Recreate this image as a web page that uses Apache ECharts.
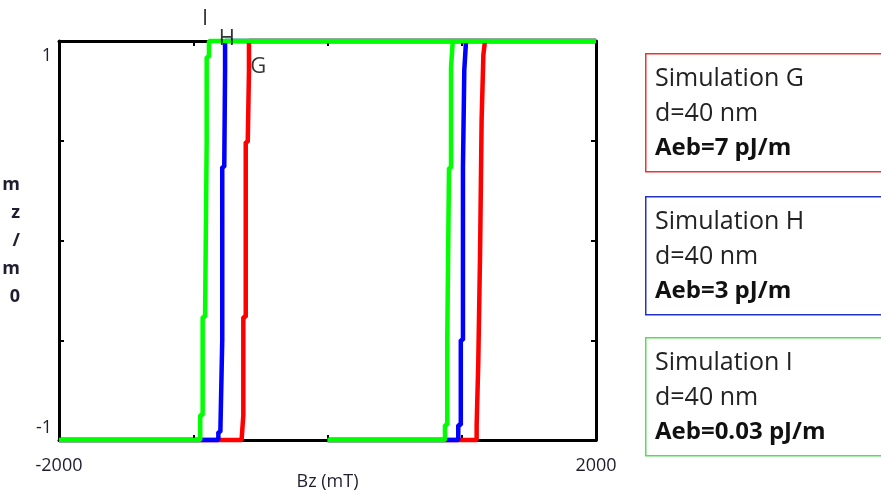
<!DOCTYPE html>
<html>
<head>
<meta charset="utf-8">
<script src="https://cdn.jsdelivr.net/npm/echarts@6/dist/echarts.min.js"></script>
<style>
  html, body { margin: 0; padding: 0; background: #fff; }
  #chart { width: 881px; height: 494px; }
</style>
</head>
<body>
<div id="chart"></div>
<script>
// Hysteresis loops mz/m0 versus applied field Bz (mT).
// Each branch is a staircase: switchX[i] holds from levels[i] to levels[i+1].

const xTickLabels = ['-2000', '2000'];
const yTickLabels = ['-1', '1'];

// Simulation G (red)
const gUpLevels = [-1, -0.925, -0.614, -0.083, 0.604, 0.93, 1];
const gUpX = [1111, 1123, 1136, 1148, 1161, 1173];
const gDownLevels = [1, 0.85, 0.494, -0.383, -0.875, -1];
const gDownX = [-585, -594, -609, -627, -640];

// Simulation H (blue)
const hUpLevels = [-1, -0.925, -0.499, 0.368, 0.855, 1];
const hUpX = [974, 993, 1009, 1019, 1032];
const hDownLevels = [1, 0.855, 0.368, -0.499, -0.96, -1];
const hDownX = [-763, -769, -784, -798, -813];

// Simulation I (green)
const iUpLevels = [-1, -0.925, -0.499, 0.363, 0.865, 1];
const iUpX = [875, 892, 905, 920, 933];
const iDownLevels = [1, 0.92, 0.494, -0.383, -0.875, -1];
const iDownX = [-883, -900, -912, -930, -948];

// Sweep: start at 0 mT, up to +2000, back down to -2000
const sweepStart = 0;
const sweepMax = 2000;
const sweepMin = -2000;

// Curve tags placed next to the branch tops
const tagNames = ['G', 'H', 'I'];
const tagX = [-515, -749, -912];
const tagY = [0.87, 1.01, 1.11];

const legendTitles = ['Simulation G', 'Simulation H', 'Simulation I'];
const legendThickness = ['d=40 nm', 'd=40 nm', 'd=40 nm'];
const legendAeb = ['Aeb=7 pJ/m', 'Aeb=3 pJ/m', 'Aeb=0.03 pJ/m'];

function staircase(xs, levels) {
  const pts = [];
  for (let i = 0; i < xs.length; i++) {
    pts.push([xs[i], levels[i]]);
    pts.push([xs[i], levels[i + 1]]);
  }
  return pts;
}

function loop(upX, upLevels, downX, downLevels) {
  return [[sweepStart, -1]]
    .concat(staircase(upX, upLevels))
    .concat([[sweepMax, 1]])
    .concat(staircase(downX, downLevels))
    .concat([[sweepMin, -1]]);
}

const colors = ['#ff0000', '#0000ff', '#00ff00'];
const boxColors = ['#ee3333', '#2233cc', '#55dd55'];
const loops = [
  loop(gUpX, gUpLevels, gDownX, gDownLevels),
  loop(hUpX, hUpLevels, hDownX, hDownLevels),
  loop(iUpX, iUpLevels, iDownX, iDownLevels)
];

const textColor = '#1e1e2e';
const labelFont = 'Open Sans';

const series = loops.map((d, k) => ({
  type: 'line',
  data: d,
  symbol: 'none',
  clip: false,
  animation: false,
  lineStyle: { color: colors[k], width: 4.5 }
}));

// Curve tags
series.push({
  type: 'scatter',
  clip: false,
  silent: true,
  animation: false,
  symbolSize: 1,
  itemStyle: { color: 'rgba(255,255,255,0)' },
  z: 5,
  data: tagNames.map((n, k) => ({ value: [tagX[k], tagY[k]], name: n })),
  label: {
    show: true,
    position: 'inside',
    formatter: p => p.name,
    color: '#000',
    textBorderWidth: 0,
    fontSize: 22,
    fontFamily: labelFont
  }
});

// Legend boxes drawn at the right
const boxTops = [53, 196, 337];
const graphics = [];
for (let k = 0; k < 3; k++) {
  graphics.push({
    type: 'rect',
    left: 645,
    top: boxTops[k],
    shape: { width: 250, height: 118 },
    style: { fill: '#fff', stroke: boxColors[k], lineWidth: 1.5 }
  });
  graphics.push({
    type: 'text',
    left: 655,
    top: boxTops[k] + 8.5,
    style: {
      text: legendTitles[k] + '\n' + legendThickness[k],
      fontFamily: labelFont,
      fontSize: 25,
      lineHeight: 35,
      fill: '#222'
    }
  });
  graphics.push({
    type: 'text',
    left: 655,
    top: boxTops[k] + 77.5,
    style: {
      text: legendAeb[k],
      fontFamily: labelFont,
      fontSize: 24,
      fontWeight: 'bold',
      lineHeight: 35,
      fill: '#111'
    }
  });
}

const frameLine = { show: true, onZero: false, lineStyle: { color: '#000', width: 3 } };
const innerTicks = { show: true, inside: true, length: 5, lineStyle: { color: '#000', width: 2 } };

const option = {
  backgroundColor: '#fff',
  animation: false,
  grid: { left: 59, right: 285, top: 41, bottom: 54, containLabel: false, outerBoundsMode: 'none' },
  xAxis: [{
    type: 'value',
    min: -2000, max: 2000, interval: 1000,
    position: 'bottom',
    name: 'Bz (mT)',
    nameLocation: 'middle',
    nameGap: 33,
    nameMoveOverlap: false,
    nameTextStyle: { color: textColor, fontSize: 18, fontFamily: labelFont },
    axisLine: frameLine,
    axisTick: innerTicks,
    splitLine: { show: false },
    axisLabel: {
      color: textColor, fontSize: 18, fontFamily: labelFont, margin: 17,
      formatter: v => (xTickLabels.indexOf(String(v)) >= 0 ? String(v) : '')
    }
  }, {
    type: 'value',
    min: -2000, max: 2000, interval: 1000,
    position: 'top',
    axisLine: frameLine,
    axisTick: innerTicks,
    splitLine: { show: false },
    axisLabel: { show: false }
  }],
  yAxis: [{
    type: 'value',
    min: -1, max: 1, interval: 0.5,
    position: 'left',
    name: 'm\nz\n/\nm\n0',
    nameLocation: 'middle',
    nameRotate: 0,
    nameGap: 39,
    nameMoveOverlap: false,
    nameTextStyle: { color: textColor, fontSize: 18, fontFamily: labelFont, lineHeight: 28, fontWeight: 'bold', padding: [4, 0, 0, 0] },
    axisLine: frameLine,
    axisTick: innerTicks,
    splitLine: { show: false },
    axisLabel: {
      color: textColor, fontSize: 18, fontFamily: labelFont, margin: 7,
      formatter: v => {
        const s = String(v);
        if (yTickLabels.indexOf(s) < 0) return '';
        return v > 0 ? '{hi|' + s + '}' : '{lo|' + s + '}';
      },
      rich: {
        hi: { color: textColor, fontSize: 18, fontFamily: labelFont, padding: [30, 0, 0, 0] },
        lo: { color: textColor, fontSize: 18, fontFamily: labelFont, padding: [0, 0, 24, 0] }
      }
    }
  }, {
    type: 'value',
    min: -1, max: 1, interval: 0.5,
    position: 'right',
    axisLine: frameLine,
    axisTick: innerTicks,
    splitLine: { show: false },
    axisLabel: { show: false }
  }],
  series: series,
  graphic: graphics
};

const chart = echarts.init(document.getElementById('chart'), null, { renderer: 'canvas' });
chart.setOption(option);
</script>
</body>
</html>
